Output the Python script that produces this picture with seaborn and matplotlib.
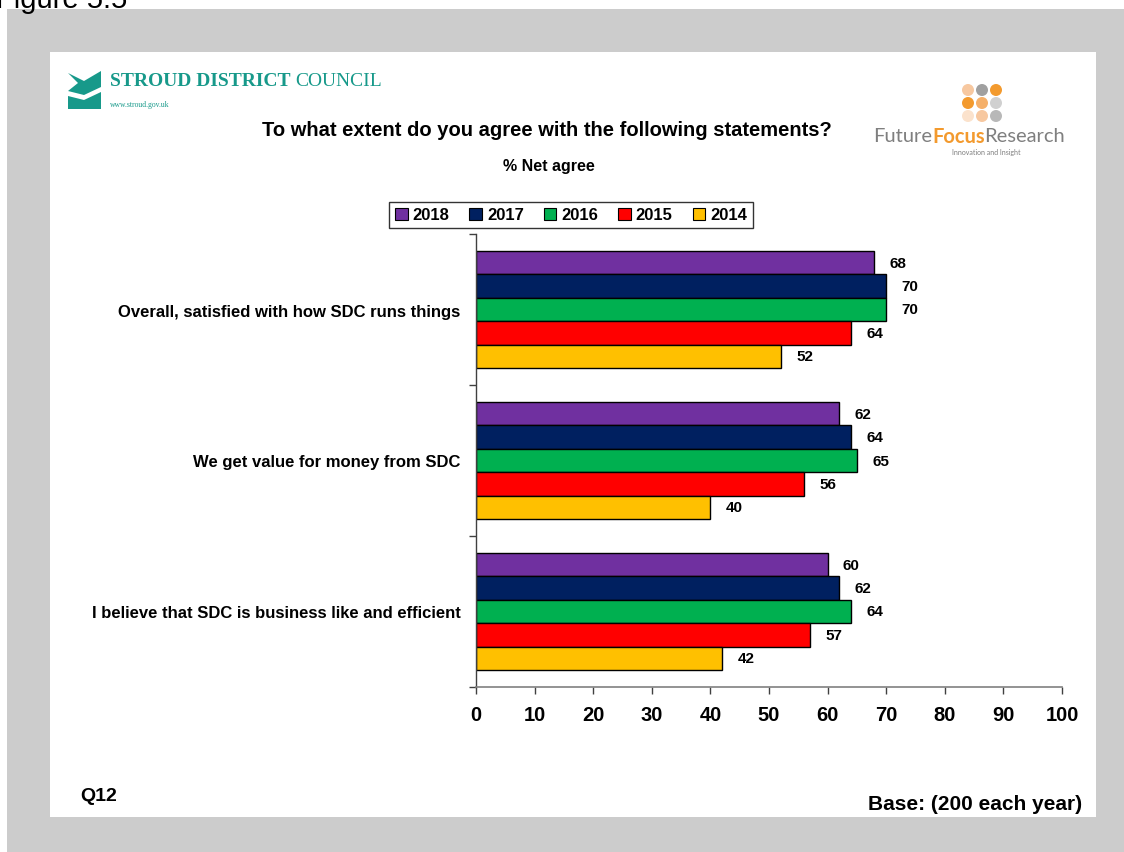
import matplotlib
matplotlib.use("Agg")
import matplotlib.pyplot as plt
import matplotlib.patches as mpatches
import numpy as np
import pandas as pd
import seaborn as sns

# ---- data -------------------------------------------------------------
statements = [
    "Overall, satisfied with how SDC runs things",
    "We get value for money from SDC",
    "I believe that SDC is business like and efficient",
]
years = ["2018", "2017", "2016", "2015", "2014"]
net_2018 = [68, 62, 60]
net_2017 = [70, 64, 62]
net_2016 = [70, 65, 64]
net_2015 = [64, 56, 57]
net_2014 = [52, 40, 42]
x_ticks = [0, 10, 20, 30, 40, 50, 60, 70, 80, 90, 100]
year_colors = ["#7030A0", "#002060", "#00B050", "#FF0000", "#FFC000"]

series = [net_2018, net_2017, net_2016, net_2015, net_2014]
df = pd.DataFrame(
    [(s, y, v[i]) for y, v in zip(years, series) for i, s in enumerate(statements)],
    columns=["Statement", "Year", "Net"],
)

# ---- figure -----------------------------------------------------------
sns.set_theme(style="white")
plt.rcParams["font.family"] = ["Liberation Sans", "DejaVu Sans"]
plt.rcParams["text.color"] = "black"
plt.rcParams["xtick.color"] = "black"
plt.rcParams["ytick.color"] = "black"
plt.rcParams["axes.labelcolor"] = "black"

W, H = 1124, 853
fig = plt.figure(figsize=(W / 100, H / 100), dpi=100, facecolor="white")


def fx(px):
    return px / W


def fy(py):
    return 1 - py / H


# page frame: grey surround and white slide
fig.patches.append(mpatches.Rectangle((fx(7), 0), 1 - fx(7), fy(10), transform=fig.transFigure,
                                      facecolor="#CCCCCC", edgecolor="none", zorder=-3))
fig.patches.append(mpatches.Rectangle((fx(50), fy(818)), fx(1096 - 50), fy(53) - fy(818),
                                      transform=fig.transFigure, facecolor="white",
                                      edgecolor="none", zorder=-2))
fig.text(fx(-4), fy(8), "Figure 5.5", fontsize=21, color="black", va="baseline", ha="left")

# ---- chart ------------------------------------------------------------
ax = fig.add_axes([fx(476), fy(688), fx(1062 - 476), fy(235) - fy(688)])
ax.set_zorder(2)
ax.patch.set_alpha(0)
sns.barplot(data=df, y="Statement", x="Net", hue="Year", order=statements,
            hue_order=years, palette=year_colors, orient="h", width=0.775,
            edgecolor="black", linewidth=1, saturation=1, ax=ax, legend=False)

for cont in ax.containers:
    ax.bar_label(cont, fmt="%d", padding=11, fontsize=11, fontweight="bold", color="black")

ax.set_xlim(0, 100)
ax.set_ylim(2.5, -0.5)
ax.set_xticks(x_ticks)
ax.set_xticklabels([str(t) for t in x_ticks], fontsize=14.5, fontweight="bold")
ax.set_yticks([-0.5, 0.5, 1.5, 2.5], minor=False)
ax.set_yticklabels([])
ax.set_yticks([0, 1, 2], minor=True)
ax.set_yticklabels(statements, minor=True, fontsize=12, fontweight="bold")
ax.tick_params(axis="y", which="minor", left=False, length=0, pad=11)
ax.tick_params(axis="y", which="major", left=True, length=5, width=1, color="#404040",
               direction="out")
ax.tick_params(axis="x", bottom=True, length=5, width=1, color="#404040", direction="out", pad=8)
ax.set_xlabel("")
ax.set_ylabel("")
for side in ["top", "right"]:
    ax.spines[side].set_visible(False)
ax.spines["left"].set_color("#404040")
ax.spines["bottom"].set_color("#808080")
ax.spines["left"].set_linewidth(1)
ax.spines["bottom"].set_linewidth(1.2)

handles = [mpatches.Patch(facecolor=c, edgecolor="black", linewidth=0.8, label=y)
           for c, y in zip(year_colors, years)]
leg = fig.legend(handles=handles, loc="center", bbox_to_anchor=(fx(571), fy(216)), ncol=5,
                 frameon=True, fancybox=False, prop={"weight": "bold", "size": 12},
                 handlelength=0.75, handleheight=0.75, handletextpad=0.3, columnspacing=1.2,
                 borderpad=0.35)
leg.get_frame().set_edgecolor("black")
leg.get_frame().set_linewidth(1)

# ---- titles and footers -------------------------------------------------
fig.text(fx(547), fy(131), "To what extent do you agree with the following statements?",
         ha="center", va="center", fontsize=14.5, fontweight="bold")
fig.text(fx(549), fy(167), "% Net agree", ha="center", va="center", fontsize=11.5,
         fontweight="bold")
fig.text(fx(80), fy(797), "Q12", ha="left", va="center", fontsize=14, fontweight="bold")
fig.text(fx(1082), fy(805), "Base: (200 each year)", ha="right", va="center", fontsize=15,
         fontweight="bold")

# ---- council logo -------------------------------------------------------
teal = "#17998A"
upper = mpatches.Polygon([(fx(68), fy(74)), (fx(84), fy(82)), (fx(101), fy(72)), (fx(101), fy(88)),
                          (fx(84), fy(96)), (fx(68), fy(92)), (fx(78), fy(84))],
                         closed=True, transform=fig.transFigure, facecolor=teal, edgecolor="none")
lower = mpatches.Polygon([(fx(68), fy(97)), (fx(84), fy(101)), (fx(101), fy(93)), (fx(101), fy(110)),
                          (fx(68), fy(110))],
                         closed=True, transform=fig.transFigure, facecolor=teal, edgecolor="none")
fig.patches.extend([upper, lower])
fig.canvas.draw()
renderer = fig.canvas.get_renderer()
t1 = fig.text(fx(110), fy(82), "STROUD DISTRICT", family="Liberation Serif", fontsize=14,
              fontweight="bold", color=teal, va="center", ha="left")
bb = t1.get_window_extent(renderer)
fig.text((bb.x1 + 5) / W, fy(82), "COUNCIL", family="Liberation Serif", fontsize=14,
         color=teal, va="center", ha="left")
fig.text(fx(110), fy(105), "www.stroud.gov.uk", family="Liberation Serif", fontsize=5.5,
         color=teal, va="center", ha="left")

# ---- research logo ------------------------------------------------------
dot_cols = [["#F7C8A0", "#A0A0A0", "#F39A2E"],
            ["#F39A2E", "#F5B06A", "#D0D0D0"],
            ["#FBE2CC", "#F7C8A0", "#B8B8B8"]]
for r, row in enumerate(dot_cols):
    for c, col in enumerate(row):
        fig.patches.append(mpatches.Ellipse((fx(968 + 14 * c), fy(91 + 13 * r)), fx(12), fy(0) - fy(12),
                                            transform=fig.transFigure, facecolor=col, edgecolor="none"))
xpos = 873
for part, col, wt in [("Future", "#7F7F7F", "normal"), ("Focus", "#F39A2E", "bold"),
                      ("Research", "#7F7F7F", "normal")]:
    t = fig.text(fx(xpos), fy(137), part, fontsize=14.5, color=col, fontweight=wt,
                 va="center", ha="left", family="Lato")
    xpos = t.get_window_extent(renderer).x1
fig.text(fx(986), fy(152), "Innovation and Insight", fontsize=5, color="#7F7F7F",
         ha="center", va="center", family="Lato")

fig.savefig("out.png", dpi=100, facecolor="white")
